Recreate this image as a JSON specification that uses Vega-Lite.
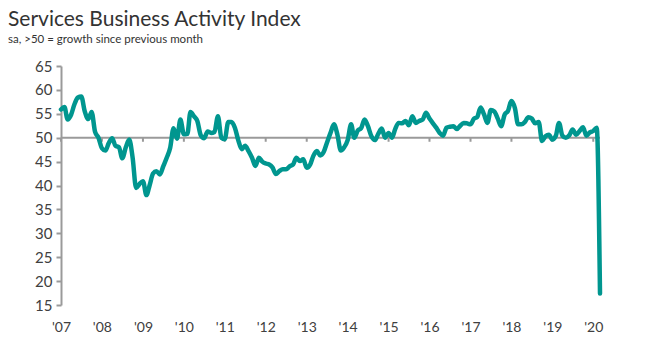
{
  "$schema": "https://vega.github.io/schema/vega-lite/v6.json",
  "width": 539,
  "height": 239,
  "autosize": {"type": "none"},
  "padding": {"left": 61, "top": 66, "right": 45, "bottom": 47},
  "background": "white",
  "config": {
    "font": "Lato",
    "view": {"stroke": null}
  },
  "title": {
    "text": "Services Business Activity Index",
    "subtitle": "sa, >50 = growth since previous month",
    "anchor": "start",
    "frame": "group",
    "dx": -53,
    "offset": 14,
    "fontSize": 21,
    "fontWeight": "normal",
    "color": "#333333",
    "subtitleFontSize": 11.5,
    "subtitleColor": "#333333",
    "subtitlePadding": 4
  },
  "datasets": {
    "ref": [{"level": 50}],
    "ticks": [
      {"d": "2007-01-01"}, {"d": "2008-01-01"}, {"d": "2009-01-01"}, {"d": "2010-01-01"}, {"d": "2011-01-01"},
      {"d": "2012-01-01"}, {"d": "2013-01-01"}, {"d": "2014-01-01"}, {"d": "2015-01-01"}, {"d": "2016-01-01"},
      {"d": "2017-01-01"}, {"d": "2018-01-01"}, {"d": "2019-01-01"}, {"d": "2020-01-01"}
    ],
    "pmi": [
      {"d": "2007-01-01", "v": 55.9}, {"d": "2007-02-01", "v": 56.4}, {"d": "2007-03-01", "v": 53.8}, {"d": "2007-04-01", "v": 54.8},
      {"d": "2007-05-01", "v": 57.0}, {"d": "2007-06-01", "v": 58.4}, {"d": "2007-07-01", "v": 58.6}, {"d": "2007-08-01", "v": 55.5},
      {"d": "2007-09-01", "v": 53.9}, {"d": "2007-10-01", "v": 55.4}, {"d": "2007-11-01", "v": 51.2}, {"d": "2007-12-01", "v": 50.0},
      {"d": "2008-01-01", "v": 47.8}, {"d": "2008-02-01", "v": 47.3}, {"d": "2008-03-01", "v": 48.8}, {"d": "2008-04-01", "v": 49.9},
      {"d": "2008-05-01", "v": 48.3}, {"d": "2008-06-01", "v": 48.0}, {"d": "2008-07-01", "v": 45.7}, {"d": "2008-08-01", "v": 48.0},
      {"d": "2008-09-01", "v": 49.6}, {"d": "2008-10-01", "v": 45.8}, {"d": "2008-11-01", "v": 39.5}, {"d": "2008-12-01", "v": 40.3},
      {"d": "2009-01-01", "v": 40.9}, {"d": "2009-02-01", "v": 38.0}, {"d": "2009-03-01", "v": 40.0}, {"d": "2009-04-01", "v": 42.5},
      {"d": "2009-05-01", "v": 43.0}, {"d": "2009-06-01", "v": 42.3}, {"d": "2009-07-01", "v": 44.0}, {"d": "2009-08-01", "v": 45.8},
      {"d": "2009-09-01", "v": 47.9}, {"d": "2009-10-01", "v": 52.0}, {"d": "2009-11-01", "v": 49.8}, {"d": "2009-12-01", "v": 53.8},
      {"d": "2010-01-01", "v": 50.7}, {"d": "2010-02-01", "v": 50.8}, {"d": "2010-03-01", "v": 55.4}, {"d": "2010-04-01", "v": 54.5},
      {"d": "2010-05-01", "v": 53.5}, {"d": "2010-06-01", "v": 50.5}, {"d": "2010-07-01", "v": 49.9}, {"d": "2010-08-01", "v": 51.3},
      {"d": "2010-09-01", "v": 51.0}, {"d": "2010-10-01", "v": 51.2}, {"d": "2010-11-01", "v": 54.5}, {"d": "2010-12-01", "v": 50.0},
      {"d": "2011-01-01", "v": 49.7}, {"d": "2011-02-01", "v": 53.3}, {"d": "2011-03-01", "v": 53.3}, {"d": "2011-04-01", "v": 52.1},
      {"d": "2011-05-01", "v": 49.5}, {"d": "2011-06-01", "v": 47.6}, {"d": "2011-07-01", "v": 48.3}, {"d": "2011-08-01", "v": 47.2},
      {"d": "2011-09-01", "v": 45.8}, {"d": "2011-10-01", "v": 44.1}, {"d": "2011-11-01", "v": 45.8}, {"d": "2011-12-01", "v": 45.0},
      {"d": "2012-01-01", "v": 44.6}, {"d": "2012-02-01", "v": 44.4}, {"d": "2012-03-01", "v": 43.8}, {"d": "2012-04-01", "v": 42.4},
      {"d": "2012-05-01", "v": 43.0}, {"d": "2012-06-01", "v": 43.4}, {"d": "2012-07-01", "v": 43.4}, {"d": "2012-08-01", "v": 44.0},
      {"d": "2012-09-01", "v": 44.4}, {"d": "2012-10-01", "v": 45.8}, {"d": "2012-11-01", "v": 45.1}, {"d": "2012-12-01", "v": 45.5},
      {"d": "2013-01-01", "v": 43.7}, {"d": "2013-02-01", "v": 44.4}, {"d": "2013-03-01", "v": 46.2}, {"d": "2013-04-01", "v": 47.2},
      {"d": "2013-05-01", "v": 46.3}, {"d": "2013-06-01", "v": 47.0}, {"d": "2013-07-01", "v": 49.0}, {"d": "2013-08-01", "v": 51.0},
      {"d": "2013-09-01", "v": 52.8}, {"d": "2013-10-01", "v": 50.7}, {"d": "2013-11-01", "v": 47.3}, {"d": "2013-12-01", "v": 48.0},
      {"d": "2014-01-01", "v": 49.5}, {"d": "2014-02-01", "v": 52.8}, {"d": "2014-03-01", "v": 50.0}, {"d": "2014-04-01", "v": 51.5},
      {"d": "2014-05-01", "v": 52.0}, {"d": "2014-06-01", "v": 53.8}, {"d": "2014-07-01", "v": 52.4}, {"d": "2014-08-01", "v": 50.3},
      {"d": "2014-09-01", "v": 49.5}, {"d": "2014-10-01", "v": 50.8}, {"d": "2014-11-01", "v": 51.9}, {"d": "2014-12-01", "v": 50.0},
      {"d": "2015-01-01", "v": 51.0}, {"d": "2015-02-01", "v": 50.0}, {"d": "2015-03-01", "v": 51.8}, {"d": "2015-04-01", "v": 53.1},
      {"d": "2015-05-01", "v": 53.0}, {"d": "2015-06-01", "v": 53.5}, {"d": "2015-07-01", "v": 52.6}, {"d": "2015-08-01", "v": 54.5},
      {"d": "2015-09-01", "v": 53.1}, {"d": "2015-10-01", "v": 53.5}, {"d": "2015-11-01", "v": 53.8}, {"d": "2015-12-01", "v": 55.2},
      {"d": "2016-01-01", "v": 54.0}, {"d": "2016-02-01", "v": 53.0}, {"d": "2016-03-01", "v": 52.1}, {"d": "2016-04-01", "v": 51.0},
      {"d": "2016-05-01", "v": 50.4}, {"d": "2016-06-01", "v": 52.1}, {"d": "2016-07-01", "v": 52.3}, {"d": "2016-08-01", "v": 52.4},
      {"d": "2016-09-01", "v": 51.8}, {"d": "2016-10-01", "v": 52.5}, {"d": "2016-11-01", "v": 53.1}, {"d": "2016-12-01", "v": 53.0},
      {"d": "2017-01-01", "v": 52.8}, {"d": "2017-02-01", "v": 54.0}, {"d": "2017-03-01", "v": 54.3}, {"d": "2017-04-01", "v": 56.3},
      {"d": "2017-05-01", "v": 54.9}, {"d": "2017-06-01", "v": 53.1}, {"d": "2017-07-01", "v": 55.8}, {"d": "2017-08-01", "v": 55.5},
      {"d": "2017-09-01", "v": 54.0}, {"d": "2017-10-01", "v": 52.4}, {"d": "2017-11-01", "v": 54.8}, {"d": "2017-12-01", "v": 55.6},
      {"d": "2018-01-01", "v": 57.7}, {"d": "2018-02-01", "v": 56.2}, {"d": "2018-03-01", "v": 52.8}, {"d": "2018-04-01", "v": 52.8},
      {"d": "2018-05-01", "v": 53.3}, {"d": "2018-06-01", "v": 54.3}, {"d": "2018-07-01", "v": 54.0}, {"d": "2018-08-01", "v": 53.0},
      {"d": "2018-09-01", "v": 53.3}, {"d": "2018-10-01", "v": 49.3}, {"d": "2018-11-01", "v": 50.3}, {"d": "2018-12-01", "v": 50.6},
      {"d": "2019-01-01", "v": 49.6}, {"d": "2019-02-01", "v": 50.4}, {"d": "2019-03-01", "v": 53.1}, {"d": "2019-04-01", "v": 50.4},
      {"d": "2019-05-01", "v": 50.0}, {"d": "2019-06-01", "v": 50.5}, {"d": "2019-07-01", "v": 51.7}, {"d": "2019-08-01", "v": 50.6},
      {"d": "2019-09-01", "v": 51.4}, {"d": "2019-10-01", "v": 52.2}, {"d": "2019-11-01", "v": 50.4}, {"d": "2019-12-01", "v": 51.1},
      {"d": "2020-01-01", "v": 51.4}, {"d": "2020-02-01", "v": 52.1}, {"d": "2020-03-01", "v": 17.4}
    ]
  },
  "layer": [
    {
      "data": {"name": "ref"},
      "mark": {"type": "rule", "color": "#9a9a9a", "strokeWidth": 2},
      "encoding": {
        "y": {
          "field": "level", "type": "quantitative",
          "scale": {"domain": [15, 65], "nice": false, "zero": false},
          "title": null,
          "axis": {
            "tickCount": 10,
            "grid": false,
            "domainColor": "#9a9a9a",
            "domainWidth": 2,
            "tickColor": "#9a9a9a",
            "tickWidth": 2,
            "tickSize": 5,
            "labelFontSize": 15,
            "labelColor": "#404040",
            "labelPadding": 4,
            "labelOverlap": false
          }
        }
      }
    },
    {
      "data": {"name": "ticks"},
      "mark": {"type": "rule", "color": "#9a9a9a", "strokeWidth": 2},
      "encoding": {
        "x": {
          "field": "d", "type": "temporal",
          "scale": {"type": "utc", "domain": ["2007-01-01", "2020-03-01"]},
          "title": null,
          "axis": {
            "format": "'%y",
            "tickCount": {"interval": "year", "step": 1},
            "domain": false,
            "ticks": false,
            "grid": false,
            "labelFontSize": 14,
            "labelColor": "#404040",
            "labelPadding": 15,
            "labelFlush": false,
            "labelOverlap": false
          }
        },
        "y": {"datum": 50, "type": "quantitative"},
        "y2": {"datum": 49.15}
      }
    },
    {
      "data": {"name": "pmi"},
      "mark": {"type": "line", "color": "#00968f", "strokeWidth": 4.5, "interpolate": "monotone", "strokeCap": "round", "strokeJoin": "round"},
      "encoding": {
        "x": {"field": "d", "type": "temporal", "title": null},
        "y": {"field": "v", "type": "quantitative", "title": null}
      }
    }
  ]
}
